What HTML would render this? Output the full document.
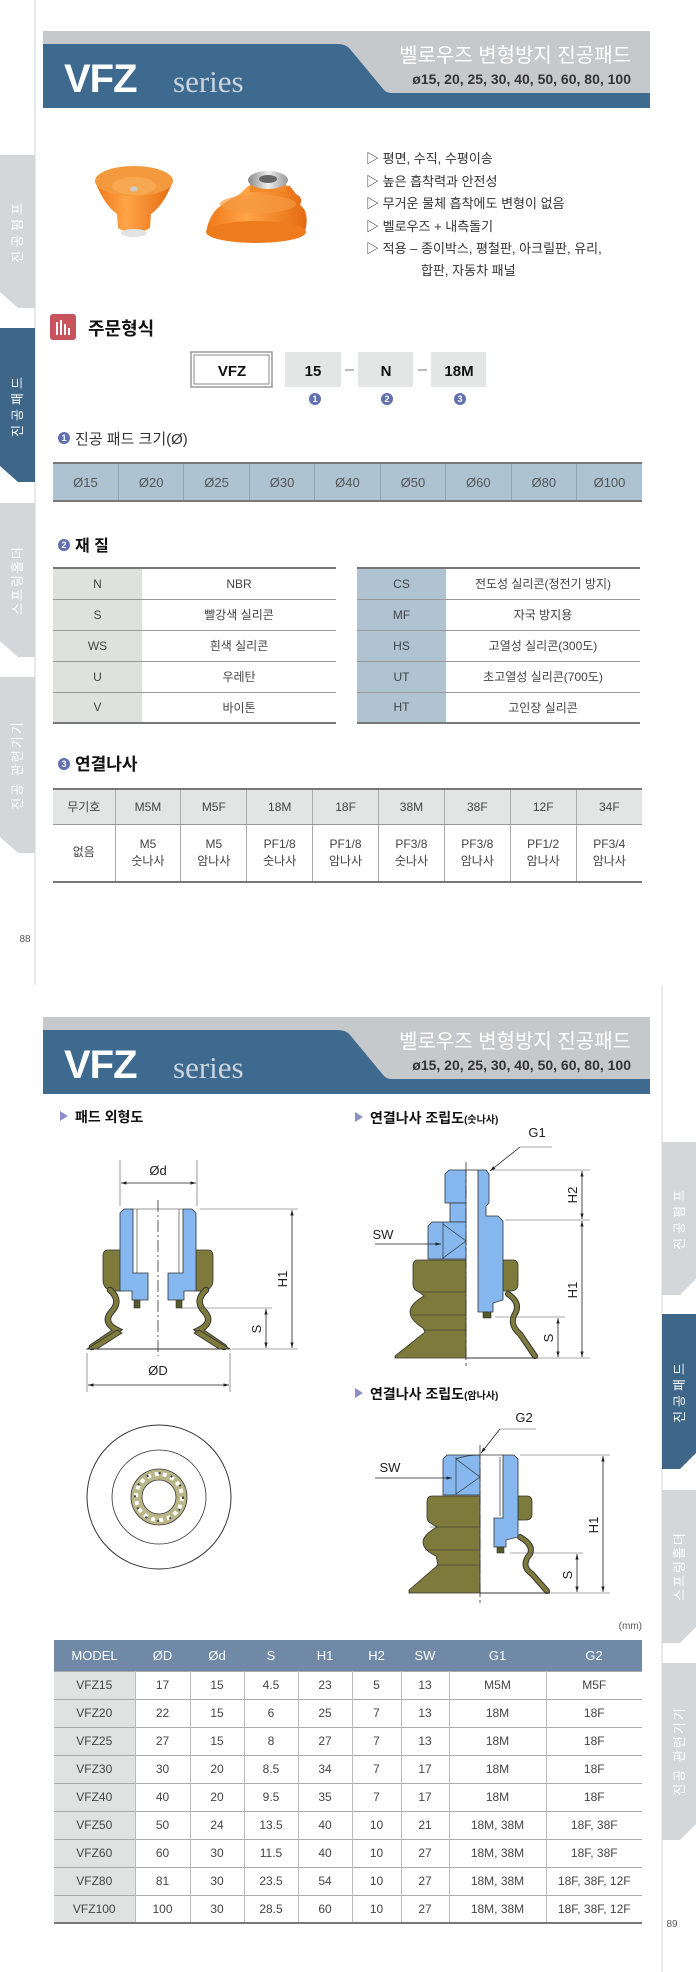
<!DOCTYPE html>
<html><head><meta charset="utf-8">
<style>
html,body{margin:0;padding:0;background:#fff;}
body{width:696px;height:1972px;position:relative;overflow:hidden;font-family:"Liberation Sans","Noto Sans CJK KR",sans-serif;color:#333;}
.abs{position:absolute;}
table{border-collapse:collapse;position:absolute;table-layout:fixed;font-size:12px;color:#444;}
td{text-align:center;padding:0;}
</style></head><body>

<svg class="abs" style="left:0;top:0" width="696" height="1972" viewBox="0 0 696 1972" font-family="Liberation Sans, Noto Sans CJK KR, sans-serif">
<defs>
<marker id="ar" viewBox="0 0 10 10" refX="10" refY="5" markerWidth="7" markerHeight="7" orient="auto-start-reverse"><path d="M0,2 L10,5 L0,8 Z" fill="#222"/></marker>
<radialGradient id="org" cx="0.4" cy="0.4" r="0.7"><stop offset="0" stop-color="#ffb060"/><stop offset="1" stop-color="#e8700e"/></radialGradient>
<linearGradient id="org2" x1="0" x2="1"><stop offset="0" stop-color="#f07818"/><stop offset="0.4" stop-color="#ffa448"/><stop offset="1" stop-color="#e56a10"/></linearGradient>
<linearGradient id="met" x1="0" x2="1"><stop offset="0" stop-color="#888"/><stop offset="0.5" stop-color="#eee"/><stop offset="1" stop-color="#999"/></linearGradient>
</defs>

<line x1="35" y1="0" x2="35" y2="985" stroke="#d6d6d6" stroke-width="1"/>
<line x1="662" y1="986" x2="662" y2="1972" stroke="#d6d6d6" stroke-width="1"/>

<path d="M0,155 H35 V308 H18 L0,292 Z" fill="#d3d7da"/>
<path d="M0,328 H35 V482 H18 L0,466 Z" fill="#3d6688"/>
<path d="M0,503 H35 V657 H18 L0,641 Z" fill="#d3d7da"/>
<path d="M0,677 H35 V853 H18 L0,837 Z" fill="#d3d7da"/>
<g font-size="13" fill="#fff" text-anchor="middle">
<text transform="translate(22,231) rotate(-90)" letter-spacing="4">진공펌프</text>
<text transform="translate(22,405) rotate(-90)" letter-spacing="4">진공패드</text>
<text transform="translate(22,580) rotate(-90)" letter-spacing="2">스프링홀더</text>
<text transform="translate(22,765) rotate(-90)" letter-spacing="2">진공 관련기기</text>
</g>
<text x="25" y="942" font-size="10" fill="#555" text-anchor="middle">88</text>

<path d="M662,1142 H696 V1279 L680,1295 H662 Z" fill="#d3d7da"/>
<path d="M662,1314 H696 V1453 L680,1469 H662 Z" fill="#3d6688"/>
<path d="M662,1490 H696 V1627 L680,1643 H662 Z" fill="#d3d7da"/>
<path d="M662,1663 H696 V1824 L680,1840 H662 Z" fill="#d3d7da"/>
<g font-size="13" fill="#fff" text-anchor="middle">
<text transform="translate(684,1218) rotate(-90)" letter-spacing="4">진공펌프</text>
<text transform="translate(684,1391) rotate(-90)" letter-spacing="4">진공패드</text>
<text transform="translate(684,1566) rotate(-90)" letter-spacing="2">스프링홀더</text>
<text transform="translate(684,1751) rotate(-90)" letter-spacing="2">진공 관련기기</text>
</g>
<text x="672" y="1927" font-size="10" fill="#555" text-anchor="middle">89</text>

<g id="hdr">
<rect x="43" y="31" width="607" height="77" fill="#c6c9cb"/>
<path d="M43,44 H338 Q346,44 350,49 L384,90 Q387,93 392,93 H650 V108 H43 Z" fill="#3f6a90"/>
<text x="64" y="92" font-size="40" font-weight="bold" fill="#fff" letter-spacing="-1">VFZ</text>
<text x="173" y="92" font-size="31" fill="#c9d4de" font-family="Liberation Serif, serif">series</text>
<text x="631" y="62" font-size="20" fill="#fff" text-anchor="end">벨로우즈 변형방지 진공패드</text>
<text x="631" y="84" font-size="14" font-weight="bold" fill="#333" text-anchor="end">ø15, 20, 25, 30, 40, 50, 60, 80, 100</text>
</g>
<use href="#hdr" transform="translate(0,986)"/>

<!-- products -->
<g>
<path d="M95,181 Q104,205 117,214 L118,228 Q134,238 150,228 L151,214 Q164,205 173,181 Z" fill="url(#org2)"/>
<ellipse cx="134" cy="181" rx="39" ry="15" fill="#f39a3e"/>
<ellipse cx="134" cy="186" rx="22" ry="9" fill="#f7a850"/>
<ellipse cx="134" cy="189" rx="4" ry="2.5" fill="#ccc"/>
<ellipse cx="134" cy="233" rx="13" ry="4" fill="#e2e2e2"/>
<path d="M206,232 Q210,212 222,205 Q232,198 240,194 L248,186 L290,186 L296,194 Q304,198 300,205 Q310,212 305,232 Z" fill="url(#org2)"/>
<ellipse cx="256" cy="232" rx="50" ry="11" fill="#ef7c1c"/>
<ellipse cx="258" cy="204" rx="38" ry="9" fill="#f59a40" opacity="0.7"/>
<rect x="250" y="180" width="36" height="12" fill="#f38a2a"/>
<ellipse cx="268" cy="180" rx="20" ry="9" fill="url(#met)"/>
<ellipse cx="268" cy="179" rx="9" ry="4" fill="#666"/>
</g>

<g font-size="13" fill="#333">
<text x="366" y="163">▷ 평면, 수직, 수평이송</text>
<text x="366" y="186">▷ 높은 흡착력과 안전성</text>
<text x="366" y="208">▷ 무거운 물체 흡착에도 변형이 없음</text>
<text x="366" y="231">▷ 벨로우즈 + 내측돌기</text>
<text x="366" y="253">▷ 적용 – 종이박스, 평철판, 아크릴판, 유리,</text>
<text x="421" y="275">합판, 자동차 패널</text>
</g>

<rect x="50" y="314" width="26" height="26" rx="3" fill="#c9535d"/>
<g fill="#fff"><rect x="56" y="322" width="2" height="13"/><rect x="60" y="320" width="2" height="15"/><rect x="64" y="324" width="2" height="11"/><rect x="68" y="328" width="2" height="7"/></g>
<text x="88" y="335" font-size="18" font-weight="bold" fill="#111">주문형식</text>
<rect x="191" y="352" width="81" height="35" fill="#fff" stroke="#999" stroke-width="1.5"/>
<rect x="194" y="355" width="75" height="29" fill="#fff" stroke="#888" stroke-width="1"/>
<text x="232" y="376" font-size="15" font-weight="bold" text-anchor="middle" fill="#111">VFZ</text>
<rect x="285" y="352" width="56" height="35" fill="#e4e5e5"/>
<rect x="358" y="352" width="55" height="35" fill="#e4e5e5"/>
<rect x="431" y="352" width="55" height="35" fill="#e4e5e5"/>
<g font-size="15" font-weight="bold" text-anchor="middle" fill="#111">
<text x="313" y="376">15</text><text x="386" y="376">N</text><text x="459" y="376">18M</text></g>
<line x1="345" y1="370" x2="354" y2="370" stroke="#777"/><line x1="418" y1="370" x2="427" y2="370" stroke="#777"/>
<g fill="#6170b0"><circle cx="315" cy="399" r="6"/><circle cx="387" cy="399" r="6"/><circle cx="460" cy="399" r="6"/></g>
<g font-size="9" font-weight="bold" fill="#fff" text-anchor="middle"><text x="315" y="402">1</text><text x="387" y="402">2</text><text x="460" y="402">3</text></g>

<circle cx="64" cy="438" r="6" fill="#6170b0"/><text x="64" y="441" font-size="9" font-weight="bold" fill="#fff" text-anchor="middle">1</text>
<text x="75" y="444" font-size="15" fill="#333">진공 패드 크기(Ø)</text>
<circle cx="64" cy="545" r="6" fill="#6170b0"/><text x="64" y="548" font-size="9" font-weight="bold" fill="#fff" text-anchor="middle">2</text>
<text x="75" y="551" font-size="16" font-weight="bold" fill="#111">재 질</text>
<circle cx="64" cy="764" r="6" fill="#6170b0"/><text x="64" y="767" font-size="9" font-weight="bold" fill="#fff" text-anchor="middle">3</text>
<text x="75" y="770" font-size="17" font-weight="bold" fill="#111">연결나사</text>

<path d="M60,1111 L68,1116 L60,1121 Z" fill="#8d8fc9"/>
<text x="75" y="1122" font-size="14" font-weight="bold" fill="#111">패드 외형도</text>
<path d="M355,1112 L363,1117 L355,1122 Z" fill="#8d8fc9"/>
<text x="370" y="1123" font-size="14" font-weight="bold" fill="#111">연결나사 조립도<tspan font-size="10">(숫나사)</tspan></text>
<path d="M355,1388 L363,1393 L355,1398 Z" fill="#8d8fc9"/>
<text x="370" y="1399" font-size="14" font-weight="bold" fill="#111">연결나사 조립도<tspan font-size="10">(암나사)</tspan></text>

<!-- LEFT pad drawing -->
<g stroke="#333" stroke-width="0.8" fill="#7d7a3c">
<path d="M108,1250 H122 V1291 H111 Q103,1288 103,1280 V1256 Q103,1250 108,1250 Z"/>
<path d="M208,1250 H194 V1291 H205 Q213,1288 213,1280 V1256 Q213,1250 208,1250 Z"/>
</g>
<g fill="none" stroke-linecap="round">
<path d="M110,1290 Q121,1300 113,1310 Q101,1322 117,1330 L92,1347" stroke="#333" stroke-width="6.5"/>
<path d="M110,1290 Q121,1300 113,1310 Q101,1322 117,1330 L92,1347" stroke="#7d7a3c" stroke-width="4.5"/>
<path d="M206,1290 Q195,1300 203,1310 Q215,1322 199,1330 L224,1347" stroke="#333" stroke-width="6.5"/>
<path d="M206,1290 Q195,1300 203,1310 Q215,1322 199,1330 L224,1347" stroke="#7d7a3c" stroke-width="4.5"/>
</g>
<path d="M117,1330 L122,1333 L97,1349 H87 Z" fill="#7d7a3c" stroke="#333" stroke-width="0.8"/>
<path d="M199,1330 L194,1333 L219,1349 H230 Z" fill="#7d7a3c" stroke="#333" stroke-width="0.8"/>
<line x1="87" y1="1349" x2="230" y2="1349" stroke="#333" stroke-width="1"/>
<g fill="#86b8ef" stroke="#333" stroke-width="0.8">
<path d="M120,1213 L124,1209 H133 V1273 H148 V1300 H132 V1291 H120 Z"/>
<path d="M196,1213 L192,1209 H183 V1273 H168 V1300 H184 V1291 H196 Z"/>
</g>
<g stroke="#333" stroke-width="0.6" fill="none"><line x1="137" y1="1209" x2="137" y2="1273"/><line x1="179" y1="1209" x2="179" y2="1273"/><line x1="133" y1="1209" x2="183" y2="1209"/></g>
<rect x="134" y="1300" width="6" height="8" fill="#555a2a" stroke="#333" stroke-width="0.6"/>
<rect x="176" y="1300" width="6" height="8" fill="#555a2a" stroke="#333" stroke-width="0.6"/>
<line x1="158" y1="1200" x2="158" y2="1356" stroke="#333" stroke-width="0.8" stroke-dasharray="12,3,2,3"/>
<g stroke="#555" stroke-width="0.6">
<line x1="120" y1="1160" x2="120" y2="1206"/><line x1="197" y1="1160" x2="197" y2="1206"/>
<line x1="200" y1="1209" x2="298" y2="1209"/><line x1="232" y1="1349" x2="298" y2="1349"/>
<line x1="180" y1="1308" x2="272" y2="1308"/>
<line x1="87" y1="1353" x2="87" y2="1392"/><line x1="230" y1="1353" x2="230" y2="1392"/>
</g>
<g stroke="#222" stroke-width="0.8" marker-start="url(#ar)" marker-end="url(#ar)">
<line x1="121" y1="1183" x2="196" y2="1183"/>
<line x1="292" y1="1210" x2="292" y2="1348"/>
<line x1="266" y1="1309" x2="266" y2="1348"/>
<line x1="88" y1="1385" x2="229" y2="1385"/>
</g>
<g font-size="13" fill="#222" text-anchor="middle">
<text x="158" y="1175">Ød</text>
<text x="158" y="1375">ØD</text>
<text transform="translate(287,1279) rotate(-90)">H1</text>
<text transform="translate(261,1329) rotate(-90)">S</text>
</g>
<circle cx="159" cy="1497" r="72" fill="#fff" stroke="#333" stroke-width="1"/>
<circle cx="159" cy="1497" r="47" fill="#fff" stroke="#333" stroke-width="0.8"/>
<circle cx="159" cy="1497" r="28" fill="#b9b68a" stroke="#333" stroke-width="0.8"/>
<circle cx="159" cy="1497" r="23" fill="none" stroke="#fff" stroke-width="4" stroke-dasharray="4,4"/>
<circle cx="159" cy="1497" r="17" fill="#fff" stroke="#333" stroke-width="0.8"/>
<circle cx="159" cy="1497" r="24" fill="none" stroke="#444" stroke-width="2" stroke-dasharray="2,10.5"/>

<!-- MALE drawing -->
<path d="M466,1260 H418 Q413,1260 413,1266 V1284 Q413,1290 419,1292 L424,1296 Q410,1304 410,1312 Q410,1320 423,1328 L425,1332 L395,1356 V1358 H466 Z" fill="#7d7a3c" stroke="#333" stroke-width="0.8"/>
<g stroke="#333" stroke-width="0.6"><line x1="418" y1="1292" x2="466" y2="1292"/><line x1="412" y1="1315" x2="466" y2="1315"/><line x1="424" y1="1330" x2="466" y2="1330"/></g>
<path d="M503,1260 H513 Q518,1260 518,1266 V1284 Q518,1290 512,1291 H503 Z" fill="#7d7a3c" stroke="#333" stroke-width="0.8"/>
<path d="M508,1294 Q520,1302 516,1312 Q508,1324 520,1334 L535,1356" fill="none" stroke="#333" stroke-width="6" stroke-linecap="round"/>
<path d="M508,1294 Q520,1302 516,1312 Q508,1324 520,1334 L535,1356" fill="none" stroke="#7d7a3c" stroke-width="4" stroke-linecap="round"/>
<line x1="466" y1="1358" x2="538" y2="1358" stroke="#333" stroke-width="1"/>
<g fill="#86b8ef" stroke="#333" stroke-width="0.8">
<path d="M449,1170 H466 V1203 H445 V1174 Z"/>
<rect x="450" y="1203" width="16" height="19"/>
<path d="M432,1222 H466 V1259 H428 V1226 Z"/>
<path d="M478,1170 H486 L489,1174 V1203 L486,1206 V1216 H498 L503,1221 V1300 L493,1303 V1312 H478 Z"/>
</g>
<g stroke="#333" stroke-width="0.7" fill="none"><line x1="443" y1="1222" x2="443" y2="1259"/><path d="M443,1224 L466,1241 L443,1258"/></g>
<rect x="483" y="1312" width="8" height="6" fill="#555a2a" stroke="#333" stroke-width="0.6"/>
<line x1="466" y1="1162" x2="466" y2="1367" stroke="#333" stroke-width="0.8" stroke-dasharray="14,3,3,3"/>
<line x1="466" y1="1170" x2="478" y2="1170" stroke="#333" stroke-width="0.8"/>
<g stroke="#555" stroke-width="0.6">
<line x1="492" y1="1170" x2="590" y2="1170"/><line x1="505" y1="1220" x2="590" y2="1220"/>
<line x1="495" y1="1317" x2="565" y2="1317"/><line x1="538" y1="1358" x2="590" y2="1358"/>
<polyline points="552,1147 520,1147" fill="none"/>
</g>
<g stroke="#222" stroke-width="0.8" marker-end="url(#ar)" fill="none">
<line x1="520" y1="1147" x2="490" y2="1171"/>
<line x1="375" y1="1244" x2="441" y2="1244"/>
</g>
<g stroke="#222" stroke-width="0.8" marker-start="url(#ar)" marker-end="url(#ar)">
<line x1="582" y1="1171" x2="582" y2="1219"/>
<line x1="582" y1="1221" x2="582" y2="1357"/>
<line x1="558" y1="1318" x2="558" y2="1357"/>
</g>
<g font-size="13" fill="#222" text-anchor="middle">
<text x="537" y="1137">G1</text>
<text x="383" y="1239">SW</text>
<text transform="translate(577,1195) rotate(-90)">H2</text>
<text transform="translate(577,1290) rotate(-90)">H1</text>
<text transform="translate(553,1338) rotate(-90)">S</text>
</g>

<!-- FEMALE drawing -->
<path d="M480,1496 H432 Q427,1496 427,1502 V1517 Q427,1522 432,1524 L437,1527 Q423,1535 423,1542 Q423,1550 436,1556 L438,1565 L409,1590 V1593 H480 Z" fill="#7d7a3c" stroke="#333" stroke-width="0.8"/>
<g stroke="#333" stroke-width="0.6"><line x1="430" y1="1527" x2="480" y2="1527"/><line x1="425" y1="1550" x2="480" y2="1550"/><line x1="436" y1="1565" x2="480" y2="1565"/></g>
<path d="M518,1496 H527 Q532,1496 532,1502 V1514 Q532,1520 526,1520 H518 Z" fill="#7d7a3c" stroke="#333" stroke-width="0.8"/>
<path d="M520,1537 Q534,1545 530,1554 Q520,1566 532,1574 L547,1591" fill="none" stroke="#333" stroke-width="6" stroke-linecap="round"/>
<path d="M520,1537 Q534,1545 530,1554 Q520,1566 532,1574 L547,1591" fill="none" stroke="#7d7a3c" stroke-width="4" stroke-linecap="round"/>
<line x1="480" y1="1593" x2="550" y2="1593" stroke="#333" stroke-width="1"/>
<g fill="#86b8ef" stroke="#333" stroke-width="0.8">
<path d="M447,1455 H480 V1495 H443 V1459 Z"/>
<path d="M503,1455 H514 L518,1459 V1537 L506,1540 V1547 H494 V1518 H503 Z"/>
</g>
<g stroke="#333" stroke-width="0.7" fill="none"><line x1="456" y1="1457" x2="456" y2="1495"/><path d="M456,1459 L480,1477 L456,1494"/><path d="M456,1459 Q466,1455 480,1455"/><line x1="500" y1="1457" x2="500" y2="1516"/></g>
<rect x="497" y="1547" width="7" height="6" fill="#555a2a" stroke="#333" stroke-width="0.6"/>
<line x1="480" y1="1445" x2="480" y2="1603" stroke="#333" stroke-width="0.8" stroke-dasharray="14,3,3,3"/>
<line x1="480" y1="1455" x2="503" y2="1455" stroke="#333" stroke-width="0.8"/>
<g stroke="#555" stroke-width="0.6">
<line x1="520" y1="1455" x2="610" y2="1455"/><line x1="510" y1="1553" x2="583" y2="1553"/><line x1="550" y1="1593" x2="610" y2="1593"/>
<line x1="536" y1="1429" x2="500" y2="1429"/>
</g>
<g stroke="#222" stroke-width="0.8" marker-end="url(#ar)" fill="none">
<line x1="500" y1="1429" x2="481" y2="1453"/>
<line x1="375" y1="1478" x2="452" y2="1478"/>
</g>
<g stroke="#222" stroke-width="0.8" marker-start="url(#ar)" marker-end="url(#ar)">
<line x1="603" y1="1456" x2="603" y2="1592"/>
<line x1="577" y1="1554" x2="577" y2="1592"/>
</g>
<g font-size="13" fill="#222" text-anchor="middle">
<text x="524" y="1422">G2</text>
<text x="390" y="1472">SW</text>
<text transform="translate(598,1525) rotate(-90)">H1</text>
<text transform="translate(572,1575) rotate(-90)">S</text>
</g>
<text x="642" y="1629" font-size="10" fill="#555" text-anchor="end">(mm)</text>
</svg>

<table style="left:53px;top:462px;width:589px;height:40px;border-top:2px solid #777;border-bottom:2px solid #777;background:#aec3d2;font-size:13px;color:#555">
<tr><td style="border-right:1px solid #8fa5b5">Ø15</td><td style="border-right:1px solid #8fa5b5">Ø20</td><td style="border-right:1px solid #8fa5b5">Ø25</td><td style="border-right:1px solid #8fa5b5">Ø30</td><td style="border-right:1px solid #8fa5b5">Ø40</td><td style="border-right:1px solid #8fa5b5">Ø50</td><td style="border-right:1px solid #8fa5b5">Ø60</td><td style="border-right:1px solid #8fa5b5">Ø80</td><td>Ø100</td></tr>
</table>

<table style="left:53px;top:567px;width:283px;border-top:2px solid #777;border-bottom:2px solid #777;font-size:12px">
<colgroup><col style="width:89px"><col></colgroup>
<tr style="height:31px"><td style="background:#dde2df;border-bottom:1px solid #999">N</td><td style="border-bottom:1px solid #999">NBR</td></tr>
<tr style="height:31px"><td style="background:#dde2df;border-bottom:1px solid #999">S</td><td style="border-bottom:1px solid #999">빨강색 실리콘</td></tr>
<tr style="height:31px"><td style="background:#dde2df;border-bottom:1px solid #999">WS</td><td style="border-bottom:1px solid #999">흰색 실리콘</td></tr>
<tr style="height:31px"><td style="background:#dde2df;border-bottom:1px solid #999">U</td><td style="border-bottom:1px solid #999">우레탄</td></tr>
<tr style="height:31px"><td style="background:#dde2df">V</td><td>바이톤</td></tr>
</table>
<table style="left:357px;top:567px;width:283px;border-top:2px solid #777;border-bottom:2px solid #777;font-size:12px">
<colgroup><col style="width:89px"><col></colgroup>
<tr style="height:31px"><td style="background:#afc3d1;border-bottom:1px solid #999">CS</td><td style="border-bottom:1px solid #999">전도성 실리콘(정전기 방지)</td></tr>
<tr style="height:31px"><td style="background:#afc3d1;border-bottom:1px solid #999">MF</td><td style="border-bottom:1px solid #999">자국 방지용</td></tr>
<tr style="height:31px"><td style="background:#afc3d1;border-bottom:1px solid #999">HS</td><td style="border-bottom:1px solid #999">고열성 실리콘(300도)</td></tr>
<tr style="height:31px"><td style="background:#afc3d1;border-bottom:1px solid #999">UT</td><td style="border-bottom:1px solid #999">초고열성 실리콘(700도)</td></tr>
<tr style="height:31px"><td style="background:#afc3d1">HT</td><td>고인장 실리콘</td></tr>
</table>

<table style="left:53px;top:788px;width:589px;border-top:2px solid #777;border-bottom:2px solid #777;font-size:12px">
<colgroup><col style="width:62px"><col><col><col><col><col><col><col><col></colgroup>
<tr style="height:35px;background:#e3e5e4"><td style="border-right:1px solid #aaa;border-bottom:1px solid #999">무기호</td><td style="border-right:1px solid #aaa;border-bottom:1px solid #999">M5M</td><td style="border-right:1px solid #aaa;border-bottom:1px solid #999">M5F</td><td style="border-right:1px solid #aaa;border-bottom:1px solid #999">18M</td><td style="border-right:1px solid #aaa;border-bottom:1px solid #999">18F</td><td style="border-right:1px solid #aaa;border-bottom:1px solid #999">38M</td><td style="border-right:1px solid #aaa;border-bottom:1px solid #999">38F</td><td style="border-right:1px solid #aaa;border-bottom:1px solid #999">12F</td><td style="border-bottom:1px solid #999">34F</td></tr>
<tr style="height:58px;line-height:17px"><td style="border-right:1px solid #aaa">없음</td><td style="border-right:1px solid #aaa">M5<br>숫나사</td><td style="border-right:1px solid #aaa">M5<br>암나사</td><td style="border-right:1px solid #aaa">PF1/8<br>숫나사</td><td style="border-right:1px solid #aaa">PF1/8<br>암나사</td><td style="border-right:1px solid #aaa">PF3/8<br>숫나사</td><td style="border-right:1px solid #aaa">PF3/8<br>암나사</td><td style="border-right:1px solid #aaa">PF1/2<br>암나사</td><td>PF3/4<br>암나사</td></tr>
</table>

<table style="left:54px;top:1640px;width:588px;border-bottom:2px solid #777;font-size:12px">
<colgroup><col style="width:81px"><col style="width:55px"><col style="width:54px"><col style="width:54px"><col style="width:54px"><col style="width:49px"><col style="width:48px"><col style="width:97px"><col></colgroup>
<tr style="height:31px;background:#6f89a6;color:#fff;font-size:13px"><td>MODEL</td><td>ØD</td><td>Ød</td><td>S</td><td>H1</td><td>H2</td><td>SW</td><td>G1</td><td>G2</td></tr>
<tbody id="sb">
<tr style="height:28px"><td style="background:#dfe2e1">VFZ15</td><td>17</td><td>15</td><td>4.5</td><td>23</td><td>5</td><td>13</td><td>M5M</td><td>M5F</td></tr>
<tr style="height:28px"><td style="background:#dfe2e1">VFZ20</td><td>22</td><td>15</td><td>6</td><td>25</td><td>7</td><td>13</td><td>18M</td><td>18F</td></tr>
<tr style="height:28px"><td style="background:#dfe2e1">VFZ25</td><td>27</td><td>15</td><td>8</td><td>27</td><td>7</td><td>13</td><td>18M</td><td>18F</td></tr>
<tr style="height:28px"><td style="background:#dfe2e1">VFZ30</td><td>30</td><td>20</td><td>8.5</td><td>34</td><td>7</td><td>17</td><td>18M</td><td>18F</td></tr>
<tr style="height:28px"><td style="background:#dfe2e1">VFZ40</td><td>40</td><td>20</td><td>9.5</td><td>35</td><td>7</td><td>17</td><td>18M</td><td>18F</td></tr>
<tr style="height:28px"><td style="background:#dfe2e1">VFZ50</td><td>50</td><td>24</td><td>13.5</td><td>40</td><td>10</td><td>21</td><td>18M, 38M</td><td>18F, 38F</td></tr>
<tr style="height:28px"><td style="background:#dfe2e1">VFZ60</td><td>60</td><td>30</td><td>11.5</td><td>40</td><td>10</td><td>27</td><td>18M, 38M</td><td>18F, 38F</td></tr>
<tr style="height:28px"><td style="background:#dfe2e1">VFZ80</td><td>81</td><td>30</td><td>23.5</td><td>54</td><td>10</td><td>27</td><td>18M, 38M</td><td>18F, 38F, 12F</td></tr>
<tr style="height:28px"><td style="background:#dfe2e1">VFZ100</td><td>100</td><td>30</td><td>28.5</td><td>60</td><td>10</td><td>27</td><td>18M, 38M</td><td>18F, 38F, 12F</td></tr>
</tbody>
</table>
<style>
#sb td{border-top:1px solid #aaa;border-right:1px solid #bbb;}
#sb td:last-child{border-right:none;}
</style>
</body></html>
